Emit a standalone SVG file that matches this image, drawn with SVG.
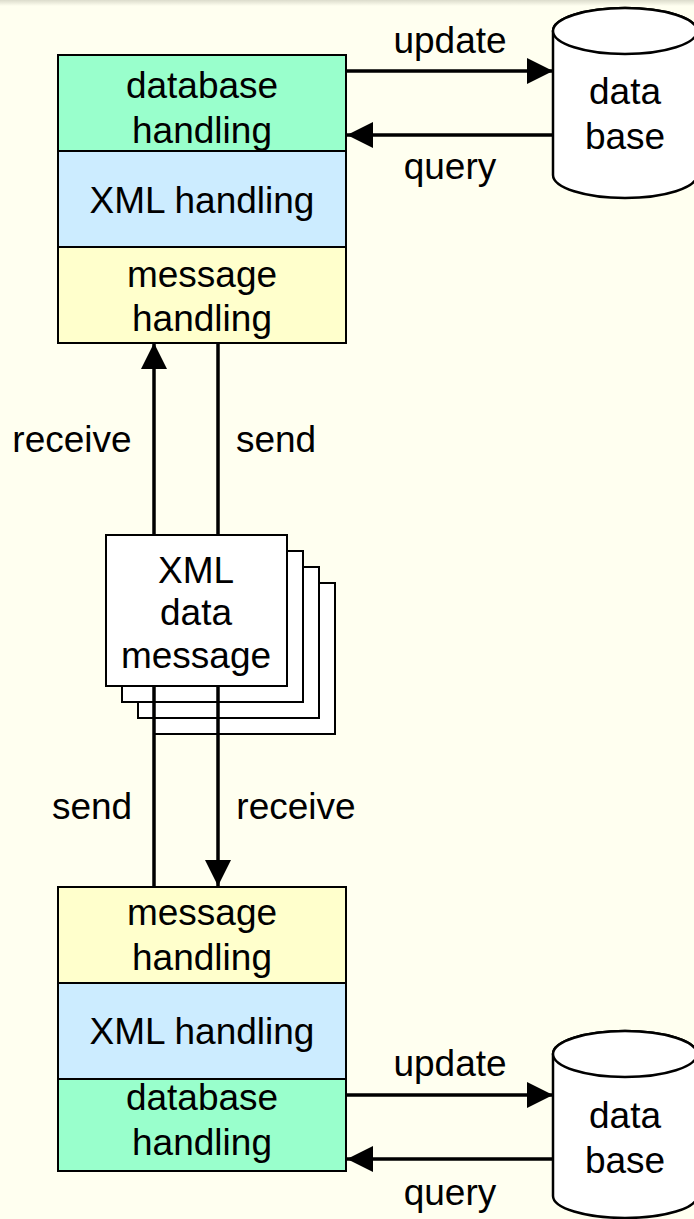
<svg xmlns="http://www.w3.org/2000/svg" width="694" height="1219" viewBox="0 0 694 1219">
  <style>
    text { font-family: "Liberation Sans", Arial, sans-serif; font-size: 37px; fill: #000; text-anchor: middle; }
    .layer { stroke: #000; stroke-width: 2; }
    .db { fill: #99FFCC; }
    .xml { fill: #CCECFF; }
    .msg { fill: #FFFFCC; }
    .sheet { fill: #fff; stroke: #000; stroke-width: 2; }
    .cyl { fill: #fff; stroke: #000; stroke-width: 2.5; }
    .wire { fill: none; stroke: #000; stroke-width: 3.5; }
  </style>
  <defs>
    <marker id="head" viewBox="0 0 26 26" refX="26" refY="13" markerWidth="26" markerHeight="26" markerUnits="userSpaceOnUse" orient="auto">
      <path d="M0,0 L26,13 L0,26 Z" fill="#000"/>
    </marker>
    <linearGradient id="topShade" x1="0" y1="0" x2="0" y2="1">
      <stop offset="0" stop-color="#DCDCCC"/>
      <stop offset="1" stop-color="#FFFFF0"/>
    </linearGradient>
  </defs>

  <rect x="0" y="0" width="694" height="1219" fill="#FFFFF0"/>
  <rect x="0" y="0" width="694" height="6" fill="url(#topShade)"/>

  <!-- upper application stack -->
  <g id="upper-stack">
    <rect class="layer db" x="58" y="55" width="288" height="96"/>
    <rect class="layer xml" x="58" y="151" width="288" height="96"/>
    <rect class="layer msg" x="58" y="247" width="288" height="96"/>
    <text x="202" y="98">database</text>
    <text x="202" y="143">handling</text>
    <text x="202" y="213">XML handling</text>
    <text x="202" y="287">message</text>
    <text x="202" y="331">handling</text>
  </g>

  <!-- lower application stack -->
  <g id="lower-stack">
    <rect class="layer msg" x="58" y="887" width="288" height="96"/>
    <rect class="layer xml" x="58" y="983" width="288" height="96"/>
    <rect class="layer db" x="58" y="1079" width="288" height="92"/>
    <text x="202" y="925">message</text>
    <text x="202" y="970">handling</text>
    <text x="202" y="1044">XML handling</text>
    <text x="202" y="1110">database</text>
    <text x="202" y="1155">handling</text>
  </g>

  <!-- upper database -->
  <g id="upper-db">
    <path class="cyl" d="M553,31 L553,175 A72,23 0 0 0 697,175 L697,31 A72,23 0 0 0 553,31 Z"/>
    <ellipse class="cyl" cx="625" cy="31" rx="72" ry="23"/>
    <text x="625" y="104">data</text>
    <text x="625" y="149">base</text>
  </g>

  <!-- lower database -->
  <g id="lower-db">
    <path class="cyl" d="M553,1054 L553,1196 A72,22 0 0 0 697,1196 L697,1054 A72,23 0 0 0 553,1054 Z"/>
    <ellipse class="cyl" cx="625" cy="1054" rx="72" ry="23"/>
    <text x="625" y="1128">data</text>
    <text x="625" y="1173">base</text>
  </g>

  <!-- stacked message sheets (back ones) -->
  <g id="message-stack">
    <rect class="sheet" x="154" y="583" width="181" height="151"/>
    <rect class="sheet" x="138" y="567" width="181" height="151"/>
    <rect class="sheet" x="122" y="551" width="181" height="151"/>
  </g>

  <!-- connectors -->
  <g id="connectors">
    <line class="wire" x1="346" y1="71" x2="553" y2="71" marker-end="url(#head)"/>
    <line class="wire" x1="553" y1="135" x2="347" y2="135" marker-end="url(#head)"/>
    <line class="wire" x1="346" y1="1095" x2="553" y2="1095" marker-end="url(#head)"/>
    <line class="wire" x1="553" y1="1159" x2="347" y2="1159" marker-end="url(#head)"/>
    <line class="wire" x1="154" y1="600" x2="154" y2="343" marker-end="url(#head)"/>
    <line class="wire" x1="218" y1="343" x2="218" y2="600"/>
    <line class="wire" x1="154" y1="600" x2="154" y2="887"/>
    <line class="wire" x1="218" y1="600" x2="218" y2="886" marker-end="url(#head)"/>
  </g>

  <!-- front message sheet -->
  <g id="xml-message">
    <rect class="sheet" x="106" y="535" width="181" height="151"/>
    <text x="196" y="583">XML</text>
    <text x="196" y="625">data</text>
    <text x="196" y="668">message</text>
  </g>

  <!-- connector labels -->
  <g id="labels">
    <text x="450" y="53">update</text>
    <text x="450" y="179">query</text>
    <text x="450" y="1076">update</text>
    <text x="450" y="1205">query</text>
    <text x="72" y="452">receive</text>
    <text x="276" y="452">send</text>
    <text x="92" y="819">send</text>
    <text x="296" y="819">receive</text>
  </g>
</svg>
